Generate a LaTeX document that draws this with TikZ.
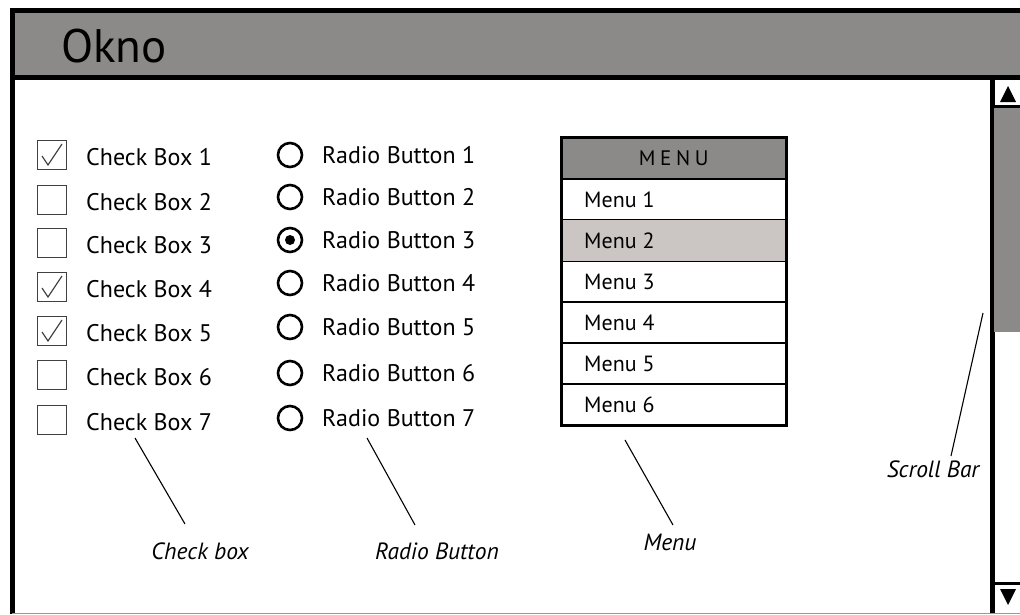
\documentclass[tikz,border=0pt]{standalone}
\usepackage{fontspec}
\setmainfont{PT Sans}
\definecolor{barGray}{HTML}{8C8A88}
\definecolor{selGray}{HTML}{CBC6C4}
\tikzset{
  cbox/.style={draw=black!75, line width=1.3pt, minimum size=29pt, inner sep=0pt},
  rbtn/.style={circle, draw, line width=2.6pt, minimum size=24pt, inner sep=0pt},
  itemtxt/.style={anchor=west, inner sep=0pt, font=\fontsize{24}{24}\selectfont},
  menurow/.style={draw, line width=1.5pt, minimum width=224pt, minimum height=41pt, anchor=north west},
  menutxt/.style={anchor=west, inner sep=0pt, font=\fontsize{22}{22}\selectfont},
  note/.style={inner sep=0pt, font=\itshape\fontsize{23.5}{24}\selectfont},
  pointer/.style={line width=1.1pt},
}
\begin{document}
\begin{tikzpicture}[x=1pt,y=-1pt]
\useasboundingbox (0,0) rectangle (1020,614);
\fill[barGray] (12,10) rectangle (1020,77);
\node[anchor=west, inner sep=0pt, font=\fontsize{47}{47}\selectfont] (title) at (61,46) {Okno};
\draw[line width=5pt] (1020,10) -- (12,10) -- (12,614);
\draw[line width=5pt] (12,77) -- (1020,77);
\draw[line width=5pt] (992,77) -- (992,614);
\draw[black!40, line width=1pt] (12,613) -- (1020,613);
\fill[barGray] (994,106) rectangle (1020,332);
\draw[line width=3pt] (994,106) -- (1020,106);
\draw[line width=3pt] (994,583) -- (1020,583);
\fill (1000,102) -- (1008,86) -- (1016,102) -- cycle;
\fill (1000,589) -- (1016,589) -- (1008,605) -- cycle;
\foreach \i/\y/\tick in {1/155/1,2/200/0,3/243/0,4/287/1,5/331/1,6/375/0,7/420/0}{
  \node[cbox] (cb\i) at (52,\y) {};
  \node[itemtxt] (cbt\i) at (86,\y+2) {Check Box \i};
  \ifnum\tick=1
    \draw[black!75, line width=1.2pt] ([shift={(-10,1)}]cb\i.center) -- ([shift={(-4,10)}]cb\i.center) -- ([shift={(10,-11)}]cb\i.center);
  \fi
}
\foreach \i/\y in {1/155,2/197,3/240,4/283,5/327,6/373,7/418}{
  \node[rbtn] (rb\i) at (290,\y) {};
  \node[itemtxt] (rbt\i) at (322,\y) {Radio Button \i};
}
\fill (rb3.center) circle (5pt);
\node[menurow, fill=barGray] (menu) at (561,137) {\addfontfeature{LetterSpace=22}\fontsize{21}{21}\selectfont MENU};
\foreach \i in {1,...,6}{
  \node[menurow] (m\i) at (561,178+41*\i-41) {};
  \node[menutxt] (mt\i) at (584,200+41*\i-41) {Menu \i};
}
\fill[selGray] ([shift={(0.75,0.75)}]m2.north west) rectangle ([shift={(-0.75,-0.75)}]m2.south east);
\node[menutxt] at (584,241) {Menu 2};
\draw[line width=3pt] (menu.north west) rectangle (m6.south east);
\node[note] (cblbl) at (200,551) {Check box};
\node[note] (rblbl) at (437,551) {Radio Button};
\node[note] (mlbl) at (670,542) {Menu};
\node[note] (sblbl) at (933,469) {Scroll Bar};
\coordinate (cb-a) at (135,438); \coordinate (cb-b) at (185,524);
\coordinate (rb-a) at (367,438); \coordinate (rb-b) at (415,525);
\coordinate (m-a) at (625,440); \coordinate (m-b) at (673,525);
\coordinate (sb-a) at (983,313); \coordinate (sb-b) at (951,456);
\draw[pointer] (cb-a) -- (cb-b);
\draw[pointer] (rb-a) -- (rb-b);
\draw[pointer] (m-a) -- (m-b);
\draw[pointer] (sb-a) -- (sb-b);
\end{tikzpicture}
\end{document}
